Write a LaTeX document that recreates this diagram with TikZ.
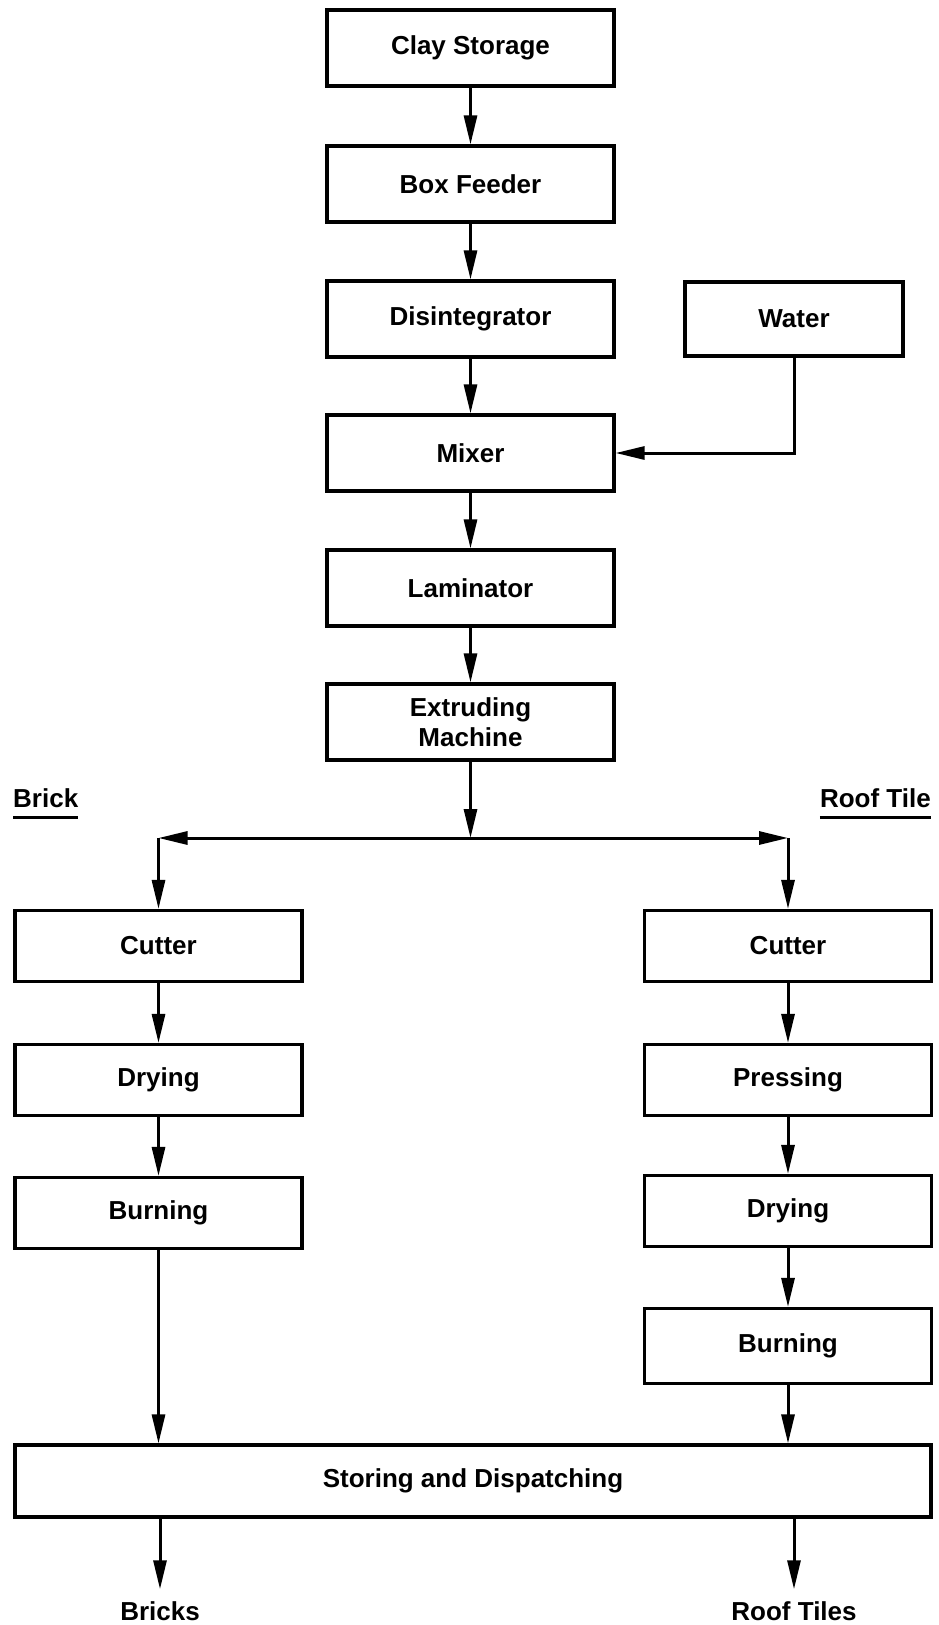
\documentclass[tikz,border=0pt]{standalone}
\usepackage{fontspec}
\setmainfont{Liberation Sans}
\usetikzlibrary{arrows.meta}
\begin{document}
\begin{tikzpicture}[x=1pt,y=-1pt,
  lettering/.style={font=\bfseries\fontsize{26}{30}\selectfont},
  box/.style={draw, line width=3.2pt, inner sep=0pt, align=center, lettering},
  mainbox/.style={box, minimum width=287pt, minimum height=76pt},
  sidebox/.style={box, minimum width=287pt, minimum height=71pt},
  flow/.style={line width=3pt, -{Triangle[length=29pt,width=13pt]}},
  label/.style={lettering, inner sep=0pt},
  rule/.style={line width=3pt}]
\useasboundingbox (0,0) rectangle (939,1625);

% main preparation line
\node[mainbox] (clay)   at (470.5,48)  {Clay Storage};
\node[mainbox] (feeder) at (470.5,184) {Box Feeder};
\node[mainbox] (disint) at (470.5,319) {Disintegrator};
\node[mainbox] (mixer)  at (470.5,453) {Mixer};
\node[mainbox] (lamin)  at (470.5,588) {Laminator};
\node[mainbox] (extr)   at (470.5,722) {Extruding\\Machine};
\node[box, minimum width=218pt, minimum height=74pt] (water) at (794,319) {Water};

% branch headings
\node[label, anchor=west] (brick) at (13,798) {Brick};
\node[label, anchor=east] (tile)  at (931,798) {Roof Tile};
\draw[rule] ([yshift=-10pt]brick.south west) -- ([yshift=-10pt]brick.south east);
\draw[rule] ([yshift=-10pt]tile.south west) -- ([yshift=-10pt]tile.south east);

% brick line
\node[sidebox] (cutL)  at (158.5,946)  {Cutter};
\node[sidebox] (dryL)  at (158.5,1080) {Drying};
\node[sidebox] (burnL) at (158.5,1213) {Burning};

% roof tile line
\node[sidebox] (cutR)   at (788,946)  {Cutter};
\node[sidebox] (pressR) at (788,1080) {Pressing};
\node[sidebox] (dryR)   at (788,1211) {Drying};
\node[sidebox, minimum height=75pt] (burnR) at (788,1346) {Burning};

% common end
\node[box, minimum width=916pt, minimum height=72pt] (store) at (473,1481) {Storing and Dispatching};
\node[label] (bricks) at (160,1611) {Bricks};
\node[label] (tiles)  at (794,1611) {Roof Tiles};

% connectors
\draw[flow] (clay) -- (feeder);
\draw[flow] (feeder) -- (disint);
\draw[flow] (disint) -- (mixer);
\draw[flow] (mixer) -- (lamin);
\draw[flow] (lamin) -- (extr);
\draw[flow] (water.south) |- (mixer.east);

\coordinate (split) at (470.5,838);
\coordinate (turnL) at (cutL.north |- split);
\coordinate (turnR) at (cutR.north |- split);
\draw[flow] (extr.south) -- (split);
\draw[flow] (split) -- (turnL);
\draw[flow] (split) -- (turnR);
\draw[flow] (turnL) -- (cutL.north);
\draw[flow] (turnR) -- (cutR.north);

\draw[flow] (cutL) -- (dryL);
\draw[flow] (dryL) -- (burnL);
\draw[flow] (cutR) -- (pressR);
\draw[flow] (pressR) -- (dryR);
\draw[flow] (dryR) -- (burnR);
\draw[flow] (burnL.south) -- (burnL.south |- store.north);
\draw[flow] (burnR.south) -- (burnR.south |- store.north);

\draw[flow, shorten >=12pt] (bricks.north |- store.south) -- (bricks.north);
\draw[flow, shorten >=12pt] (tiles.north |- store.south) -- (tiles.north);
\end{tikzpicture}
\end{document}
